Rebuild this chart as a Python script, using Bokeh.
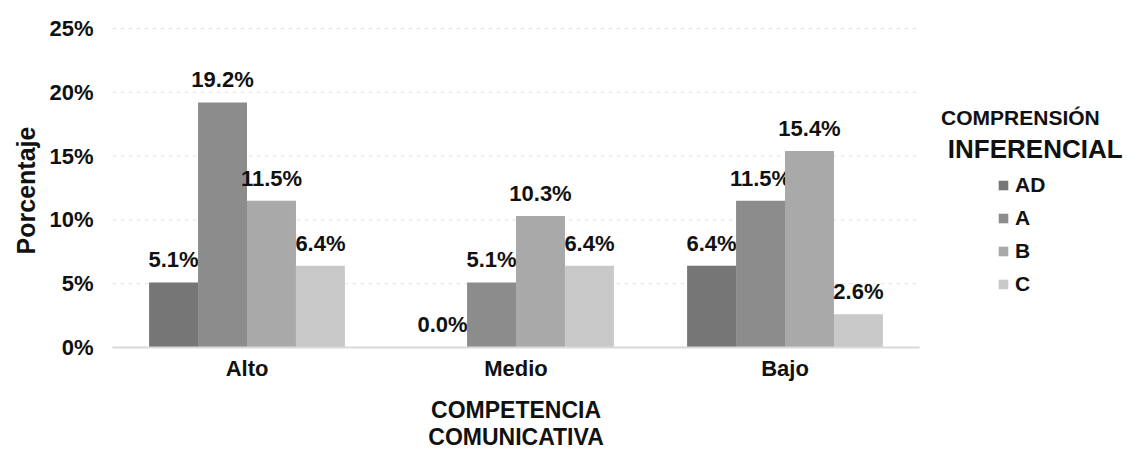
import math
from bokeh.plotting import figure
from bokeh.models import (ColumnDataSource, Legend, LegendItem, Label, Range1d)
from bokeh.transform import dodge
from bokeh.core.properties import value
from bokeh.embed import file_html
from bokeh.resources import INLINE

categories = ["Alto", "Medio", "Bajo"]
series = ["AD", "A", "B", "C"]
AD = [5.1, 0.0, 6.4]
A = [19.2, 5.1, 11.5]
B = [11.5, 10.3, 15.4]
C = [6.4, 6.4, 2.6]
colors = ["#767676", "#8c8c8c", "#a9a9a9", "#c9c9c9"]
y_ticks = [0, 5, 10, 15, 20, 25]
y_tick_labels = ["0%", "5%", "10%", "15%", "20%", "25%"]
x_title = ["COMPETENCIA", "COMUNICATIVA"]
y_title = "Porcentaje"
legend_title = ["COMPRENSIÓN", "INFERENCIAL"]

FONT = "Liberation Sans"
TXT = "#111111"

n = len(categories)
xpos = list(range(n))
data = dict(x=xpos, cat=categories, AD=AD, A=A, B=B, C=C)
for s in series:
    data[s + "_lbl"] = ["%.1f%%" % v for v in data[s]]
src = ColumnDataSource(data)

# the frame covers the whole canvas; all texts drawn as glyphs
p = figure(x_range=Range1d(-0.9164, 3.2732), y_range=Range1d(-8.229, 27.19),
           width=1127, height=452, output_backend="svg", toolbar_location=None,
           min_border=0)
p.outline_line_color = None
p.background_fill_color = "white"
p.border_fill_color = "white"
p.xaxis.visible = False
p.yaxis.visible = False
p.xgrid.grid_line_color = None
p.ygrid.grid_line_color = None

# dashed gridlines over the category area
grid_src = ColumnDataSource(dict(x0=[-0.5] * len(y_ticks), x1=[n - 0.5] * len(y_ticks),
                                 y=y_ticks, lbl=y_tick_labels))
p.segment(x0="x0", y0="y", x1="x1", y1="y", source=grid_src,
          line_color="#e3e3e3", line_dash="4 4", line_width=1)

# y tick labels
p.text(x="x0", y="y", text="lbl", source=grid_src, x_offset=-19,
       text_align="right", text_baseline="middle",
       text_font=value(FONT), text_font_style="bold", text_font_size="22px",
       text_color=TXT)

bw = 0.182
offsets = [-1.5 * bw, -0.5 * bw, 0.5 * bw, 1.5 * bw]
renderers = []
for s, c, off in zip(series, colors, offsets):
    r = p.vbar(x=dodge("x", off), top=s, width=bw, source=src,
               fill_color=c, line_color=None)
    renderers.append(r)
    p.text(x=dodge("x", off), y=s, text=s + "_lbl", source=src,
           text_align="center", text_baseline="bottom", y_offset=-10,
           text_font=value(FONT), text_font_style="bold", text_font_size="22px",
           text_color=TXT)

# baseline (x axis line)
p.segment(x0=[-0.5], y0=[0], x1=[n - 0.5], y1=[0], line_color="#d9d9d9", line_width=2)

# category labels
cat_src = ColumnDataSource(dict(x=xpos, y=[0] * n, cat=categories))
p.text(x="x", y="y", text="cat", source=cat_src, y_offset=9,
       text_align="center", text_baseline="top",
       text_font=value(FONT), text_font_style="bold", text_font_size="22px",
       text_color=TXT)

# x axis title (two lines)
mid = (n - 1) / 2
for line, off in zip(x_title, [63, 90]):
    p.add_layout(Label(x=mid, y=0, y_offset=-off, text=line, text_align="center",
                       text_baseline="middle", text_font=FONT, text_font_style="bold",
                       text_font_size="23px", text_color=TXT))

# y axis title
p.add_layout(Label(x=-0.8234, y=12.3, text=y_title, angle=math.pi / 2,
                   text_align="center", text_baseline="middle", text_font=FONT,
                   text_font_style="bold", text_font_size="25px", text_color=TXT))

# legend
legend = Legend(items=[LegendItem(label=s, renderers=[r]) for s, r in zip(series, renderers)],
                location=(997, 156), orientation="vertical",
                label_text_font=FONT, label_text_font_style="bold", label_text_font_size="21px",
                label_text_color=TXT, glyph_width=12, glyph_height=12,
                label_height=20, spacing=9, padding=0, margin=0, label_standoff=6,
                border_line_color=None, background_fill_alpha=0)
p.add_layout(legend, "center")

p.add_layout(Label(x=2.875, y=18.0, text=legend_title[0], text_align="center",
                   text_baseline="middle", text_font=FONT, text_font_style="bold",
                   text_font_size="21px", text_color=TXT))
p.add_layout(Label(x=2.93, y=15.55, text=legend_title[1], text_align="center",
                   text_baseline="middle", text_font=FONT, text_font_style="bold",
                   text_font_size="26px", text_color=TXT))

open("out.html", "w").write(file_html(p, INLINE))
